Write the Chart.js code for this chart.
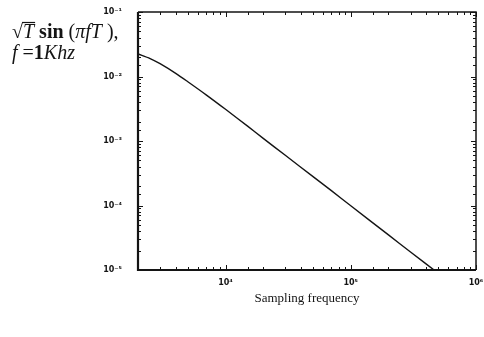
<!DOCTYPE html>
<html>
<head>
<meta charset="utf-8">
<script src="https://cdn.jsdelivr.net/npm/chart.js@4/dist/chart.umd.min.js"></script>
<style>
html,body{margin:0;padding:0;background:#fff;}
canvas{display:block;}
</style>
</head>
<body>
<canvas id="c" width="484" height="337"></canvas>
<script>
// Sampling frequency (Hz) and sqrt(T)·sin(πfT)
const samplingFreq = [2000, 2500, 3000, 4000, 5000, 7000, 10000, 15000, 20000, 30000, 50000, 70000, 100000, 200000, 300000, 500000];
const responseValues = [0.0224, 0.0190, 0.0158, 0.0112, 0.0083, 0.0052, 0.0031, 0.0017, 0.0011, 0.00060, 0.00028, 0.00017, 0.000099, 0.000035, 0.000019, 0.0000089];
const xRange = [2000, 1000000];
const yRange = [0.00001, 0.1];
const xTitle = 'Sampling frequency';

const SUP = {'-':'⁻','0':'⁰','1':'¹','2':'²','3':'³','4':'⁴','5':'⁵','6':'⁶','7':'⁷','8':'⁸','9':'⁹'};
function powLabel(v){
  const e = Math.log10(v);
  const r = Math.round(e);
  if (Math.abs(e - r) > 1e-6) return '';
  return '10' + String(r).split('').map(ch => SUP[ch]).join('');
}

const INK = '#141414';

const framePlugin = {
  id: 'frame',
  afterDatasetsDraw(chart){
    const {ctx, chartArea:a, scales} = chart;
    ctx.save();
    ctx.strokeStyle = INK;
    ctx.lineWidth = 1;
    scales.x.ticks.forEach(t => {
      const px = Math.round(scales.x.getPixelForValue(t.value)) + 0.5;
      const len = powLabel(t.value) ? 5 : 3;
      ctx.beginPath();
      ctx.moveTo(px, a.bottom); ctx.lineTo(px, a.bottom - len);
      ctx.moveTo(px, a.top); ctx.lineTo(px, a.top + len);
      ctx.stroke();
    });
    scales.y.ticks.forEach(t => {
      const py = Math.round(scales.y.getPixelForValue(t.value)) + 0.5;
      const len = powLabel(t.value) ? 5 : 3;
      ctx.beginPath();
      ctx.moveTo(a.left, py); ctx.lineTo(a.left + len, py);
      ctx.moveTo(a.right, py); ctx.lineTo(a.right - len, py);
      ctx.stroke();
    });
    ctx.lineWidth = 1.5;
    ctx.beginPath();
    ctx.moveTo(a.left, a.top); ctx.lineTo(a.right, a.top); ctx.lineTo(a.right, a.bottom);
    ctx.stroke();
    ctx.lineWidth = 2.2;
    ctx.beginPath();
    ctx.moveTo(a.left, a.top); ctx.lineTo(a.left, a.bottom); ctx.lineTo(a.right, a.bottom);
    ctx.stroke();
    ctx.restore();
  },
  afterDraw(chart){
    const ctx = chart.ctx;
    ctx.save();
    ctx.fillStyle = INK;
    ctx.textBaseline = 'alphabetic';
    const serif = '"Liberation Serif", "DejaVu Serif", serif';
    let x = 12, y = 38;
    function put(txt, style){
      ctx.font = style + ' 20px ' + serif;
      ctx.fillText(txt, x, y);
      const w = ctx.measureText(txt).width;
      const x0 = x;
      x += w;
      return [x0, w];
    }
    put('\u221A', 'normal');
    const [tx, tw] = put('T', 'italic');
    ctx.strokeStyle = INK; ctx.lineWidth = 1.2;
    ctx.beginPath(); ctx.moveTo(tx - 1, y - 15.5); ctx.lineTo(tx + tw + 1, y - 15.5); ctx.stroke();
    put(' sin ', 'bold');
    put('(', 'normal');
    put('\u03C0fT', 'italic');
    put(' ),', 'normal');
    x = 12; y = 59;
    put('f', 'italic');
    put(' =', 'normal');
    put('1', 'bold');
    put('Khz', 'italic');
    ctx.restore();
  }
};

new Chart(document.getElementById('c'), {
  type: 'line',
  data: {
    datasets: [{
      data: samplingFreq.map((f, i) => ({x: f, y: responseValues[i]})),
      borderColor: INK,
      borderWidth: 1.4,
      pointRadius: 0,
      tension: 0.3,
      fill: false
    }]
  },
  options: {
    responsive: false,
    animation: false,
    devicePixelRatio: 1,
    layout: { padding: { left: 0, right: 8, top: 12, bottom: 0 } },
    plugins: { legend: { display: false }, tooltip: { enabled: false } },
    scales: {
      x: {
        type: 'logarithmic',
        min: xRange[0], max: xRange[1],
        grid: { display: false },
        border: { display: false },
        ticks: {
          autoSkip: false, maxRotation: 0, padding: 0,
          color: INK,
          font: { family: '"DejaVu Sans", sans-serif', size: 8, weight: 'bold' },
          callback: v => powLabel(v)
        },
        title: {
          display: true, text: xTitle, color: INK,
          font: { family: '"Liberation Serif", serif', size: 13 },
          padding: { top: 0, bottom: 31 }
        },
        afterFit(s){ s.height = 67; s.paddingLeft = 0; s.paddingRight = 0; }
      },
      y: {
        type: 'logarithmic',
        min: yRange[0], max: yRange[1],
        grid: { display: false },
        border: { display: false },
        ticks: {
          autoSkip: false, padding: 8,
          color: INK,
          font: { family: '"DejaVu Sans", sans-serif', size: 8, weight: 'bold' },
          callback: v => powLabel(v)
        },
        afterFit(s){ s.width = 138; s.paddingTop = 0; s.paddingBottom = 0; }
      }
    }
  },
  plugins: [framePlugin]
});
</script>
</body>
</html>
